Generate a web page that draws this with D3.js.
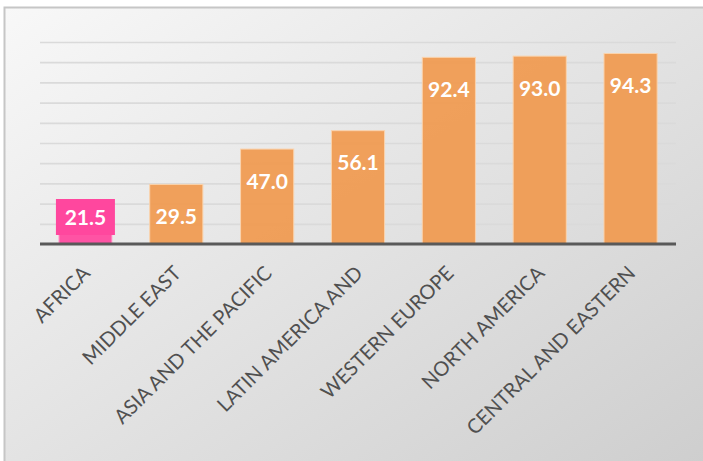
<!DOCTYPE html>
<html>
<head>
<meta charset="utf-8">
<script src="https://cdn.jsdelivr.net/npm/d3@7"></script>
<style>
  html, body { margin: 0; padding: 0; background: #fff; }
  svg { display: block; font-family: Lato, "Open Sans", sans-serif; }
  .xlab { font-family: Lato, sans-serif; font-size: 20px; }
</style>
</head>
<body>
<div id="chart"></div>
<script>
// valeurs
const regions = ['AFRICA', 'MIDDLE EAST', 'ASIA AND THE PACIFIC', 'LATIN AMERICA AND',
  'WESTERN EUROPE', 'NORTH AMERICA', 'CENTRAL AND EASTERN'];
const values = [21.5, 29.5, 47.0, 56.1, 92.4, 93.0, 94.3];
const highlighted = ['AFRICA'];
const yTicks = [0, 10, 20, 30, 40, 50, 60, 70, 80, 90, 100];

const W = 703, H = 461;
const margin = { top: 42, left: 40, right: 27, bottom: 218 };
const innerW = W - margin.left - margin.right;
const innerH = H - margin.top - margin.bottom + 1;

const ORANGE = '#f09a50';
const PINK = '#ff479e';

const svg = d3.select('#chart').append('svg')
  .attr('width', W).attr('height', H);

const defs = svg.append('defs');
const bg = defs.append('linearGradient').attr('id', 'bg')
  .attr('x1', '0').attr('y1', '0').attr('x2', '1').attr('y2', '1');
bg.append('stop').attr('offset', '0%').attr('stop-color', '#f8f8f8');
bg.append('stop').attr('offset', '100%').attr('stop-color', '#cdcdcd');

const gridGrad = defs.append('linearGradient').attr('id', 'gridGrad')
  .attr('gradientUnits', 'userSpaceOnUse')
  .attr('x1', 0).attr('y1', margin.top).attr('x2', 0).attr('y2', margin.top + innerH);
gridGrad.append('stop').attr('offset', '0%').attr('stop-color', '#dadada');
gridGrad.append('stop').attr('offset', '100%').attr('stop-color', '#8e8e8e');

svg.append('rect')
  .attr('x', 4.5).attr('y', 7.5)
  .attr('width', W + 10).attr('height', H + 10)
  .attr('fill', 'url(#bg)')
  .attr('stroke', '#c6c6c6')
  .attr('stroke-width', 2);

const g = svg.append('g')
  .attr('transform', `translate(${margin.left},${margin.top})`);

const x = d3.scaleBand()
  .domain(regions)
  .range([0, innerW])
  .paddingInner(0.415)
  .paddingOuter(0.2075);

const y = d3.scaleLinear()
  .domain([0, 100])
  .range([innerH, 0]);

g.append('g')
  .attr('class', 'grid')
  .call(d3.axisLeft(y).tickValues(yTicks.slice(1)).tickSize(-innerW).tickFormat(''))
  .call((gr) => gr.select('.domain').remove())
  .call((gr) => gr.selectAll('line')
    .attr('stroke', 'url(#gridGrad)')
    .attr('stroke-width', 1.7));

g.selectAll('.bar')
  .data(values)
  .enter()
  .append('rect')
  .attr('class', 'bar')
  .attr('x', (d, i) => x(regions[i]))
  .attr('y', (d) => y(d))
  .attr('width', x.bandwidth())
  .attr('height', (d) => y(0) - y(d))
  .attr('fill', (d, i) => highlighted.includes(regions[i]) ? PINK : ORANGE)
  .attr('fill-opacity', 0.93)
  .attr('stroke', (d, i) => highlighted.includes(regions[i]) ? '#ffb3d6' : '#fad3ad')
  .attr('stroke-width', 1);

// étiquettes de valeurs
const labelY = (d) => Math.min(y(d) + 32, y(0) - 27);

values.forEach((d, i) => {
  const cx = x(regions[i]) + x.bandwidth() / 2;
  if (highlighted.includes(regions[i])) {
    g.append('rect')
      .attr('x', cx - 29.5)
      .attr('y', labelY(d) - 18)
      .attr('width', 59)
      .attr('height', 36)
      .attr('fill', PINK);
  }
  g.append('text')
    .attr('x', cx)
    .attr('y', labelY(d))
    .attr('dy', '0.36em')
    .attr('text-anchor', 'middle')
    .attr('fill', '#fff')
    .attr('font-weight', 'bold')
    .style('font-size', '21px')
    .text(d.toFixed(1));
});

g.append('line')
  .attr('x1', 0).attr('x2', innerW)
  .attr('y1', y(0)).attr('y2', y(0))
  .attr('stroke', '#595959')
  .attr('stroke-width', 3);

const xAxis = g.append('g')
  .attr('transform', `translate(0,${innerH})`)
  .call(d3.axisBottom(x).tickSize(0).tickPadding(0))
  .attr('font-family', null)
  .attr('font-size', null);
xAxis.select('.domain').remove();
xAxis.selectAll('text')
  .attr('class', 'xlab')
  .attr('fill', '#505050')
  .attr('text-anchor', 'end')
  .attr('dy', 0)
  .attr('transform', 'translate(6,30.5) rotate(-45)');
</script>
</body>
</html>
